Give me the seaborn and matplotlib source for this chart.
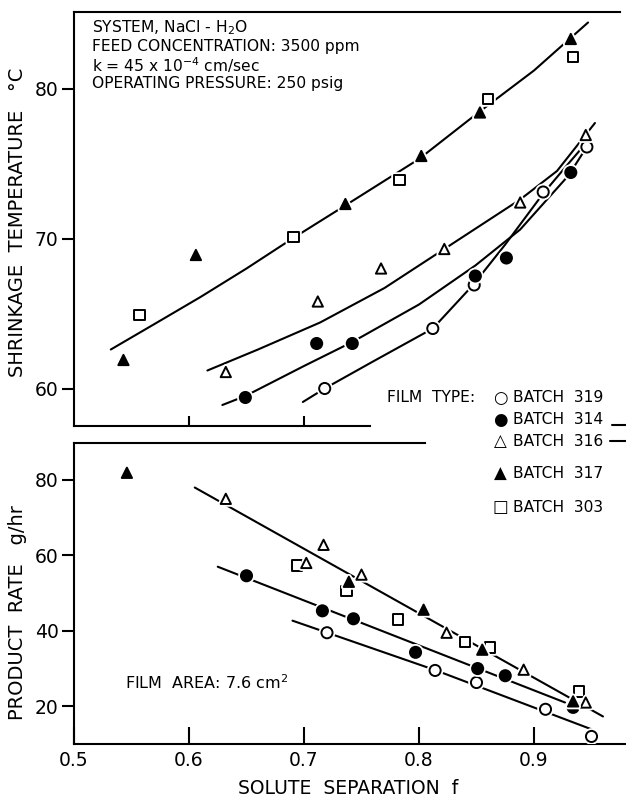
import matplotlib
matplotlib.use('Agg')
import numpy as np
import pandas as pd
import seaborn as sns
import matplotlib.pyplot as plt
import matplotlib.patheffects as pe

# ---- values ----
batches = ['319', '314', '316', '317', '303']

# shrinkage temperature (top panel) points
top_x = {
    '319': [0.718, 0.812, 0.848, 0.908, 0.946],
    '314': [0.649, 0.711, 0.742, 0.849, 0.876, 0.932],
    '316': [0.632, 0.712, 0.767, 0.822, 0.888, 0.945],
    '317': [0.543, 0.606, 0.736, 0.802, 0.853, 0.932],
    '303': [0.557, 0.691, 0.783, 0.860, 0.934],
}
top_y = {
    '319': [60.0, 64.0, 66.9, 73.1, 76.1],
    '314': [59.4, 63.0, 63.0, 67.5, 68.7, 74.4],
    '316': [61.1, 65.8, 68.0, 69.3, 72.4, 76.9],
    '317': [61.9, 68.9, 72.3, 75.5, 78.4, 83.3],
    '303': [64.9, 70.1, 73.9, 79.3, 82.1],
}

# product rate (bottom panel) points
bot_x = {
    '319': [0.720, 0.814, 0.850, 0.910, 0.950],
    '314': [0.650, 0.716, 0.743, 0.797, 0.851, 0.875, 0.934],
    '316': [0.632, 0.702, 0.717, 0.750, 0.824, 0.891, 0.945],
    '317': [0.546, 0.739, 0.804, 0.855, 0.934],
    '303': [0.694, 0.737, 0.782, 0.840, 0.862, 0.939],
}
bot_y = {
    '319': [39.5, 29.5, 26.3, 19.2, 12.0],
    '314': [54.6, 45.3, 43.2, 34.3, 30.0, 28.1, 19.7],
    '316': [75.0, 58.0, 62.8, 54.9, 39.5, 29.7, 21.0],
    '317': [81.9, 53.0, 45.6, 35.0, 21.3],
    '303': [57.3, 50.6, 43.0, 37.1, 35.6, 23.9],
}

# hand-drawn fit curves
top_curves_x = [
    [0.532, 0.57, 0.61, 0.65, 0.69, 0.74, 0.80, 0.85, 0.90, 0.947],
    [0.616, 0.66, 0.714, 0.77, 0.822, 0.888, 0.92, 0.953],
    [0.629, 0.649, 0.70, 0.742, 0.80, 0.849, 0.888, 0.93, 0.945],
    [0.699, 0.718, 0.76, 0.812, 0.847, 0.875, 0.908, 0.93, 0.948],
]
top_curves_y = [
    [62.6, 64.3, 66.1, 68.0, 70.0, 72.4, 75.3, 78.3, 81.2, 84.4],
    [61.2, 62.6, 64.4, 66.7, 69.3, 72.6, 74.5, 77.7],
    [58.9, 59.5, 61.5, 63.1, 65.6, 68.2, 70.6, 74.2, 76.0],
    [59.1, 60.0, 61.8, 64.0, 66.9, 69.6, 73.0, 75.0, 76.6],
]
bot_lines_x = [[0.605, 0.960], [0.625, 0.927], [0.690, 0.814, 0.950]]
bot_lines_y = [[78.0, 17.3], [57.0, 21.0], [42.7, 29.6, 13.9]]

styles = {  # marker, filled, size
    '319': ('o', False, 64),
    '314': ('o', True, 64),
    '316': ('^', False, 55),
    '317': ('^', True, 55),
    '303': ('s', False, 55),
}
draw_order = ['303', '319', '314', '316', '317']

sns.set_style('ticks')
plt.rcParams['font.family'] = ['DejaVu Sans']
for k in ['text.color', 'axes.labelcolor', 'xtick.color', 'ytick.color', 'axes.edgecolor']:
    plt.rcParams[k] = 'black'

W, H = 626, 796
fig = plt.figure(figsize=(W / 100, H / 100), dpi=100)
ax1 = fig.add_axes([74 / W, 370 / H, 552 / W, 414 / H])
ax2 = fig.add_axes([74 / W, 52 / H, 552 / W, 301 / H])

halo = [pe.Stroke(linewidth=4, foreground='white'), pe.Normal()]


def draw_panel(ax, xs, ys, lx, ly):
    for cx, cy in zip(lx, ly):
        sns.lineplot(x=cx, y=cy, ax=ax, color='black', lw=1.5, estimator=None, sort=False)
    for b in draw_order:
        m, filled, s = styles[b]
        df = pd.DataFrame({'x': xs[b], 'y': ys[b]})
        sns.scatterplot(data=df, x='x', y='y', ax=ax, marker=m, s=s,
                        facecolor='black' if filled else 'white',
                        edgecolor='black', linewidth=1.4, zorder=3,
                        path_effects=halo)
    ax.set_xlim(0.5, 0.98)
    ax.set_xlabel('')
    ax.set_ylabel('')
    ax.spines['right'].set_visible(False)
    for sp in ax.spines.values():
        sp.set_linewidth(1.5)


draw_panel(ax1, top_x, top_y, top_curves_x, top_curves_y)
draw_panel(ax2, bot_x, bot_y, bot_lines_x, bot_lines_y)

ax1.set_ylim(57.5, 85.1)
ax1.set_yticks([60, 70, 80])
ax1.set_xticks([0.6, 0.7])
ax1.set_xticklabels([])
ax1.spines['bottom'].set_bounds(0.5, 0.757)
ax1.spines['top'].set_bounds(0.5, 0.975)
ax1.tick_params(axis='y', direction='out', length=9, width=1.5, pad=2, labelsize=13.5)
ax1.tick_params(axis='x', direction='in', length=7, width=1.5)

ax2.set_ylim(10, 89.8)
ax2.set_yticks([20, 40, 60, 80])
ax2.set_xticks([0.5, 0.6, 0.7, 0.8, 0.9])
ax2.set_xticklabels(['0.5', '0.6', '0.7', '0.8', '0.9'])
ax2.spines['top'].set_bounds(0.5, 0.805)
ax2.tick_params(axis='y', direction='out', length=9, width=1.5, pad=2, labelsize=13.5)
ax2.tick_params(axis='x', direction='in', length=12, width=1.5, pad=5, labelsize=13.5)


def px(x, y):
    return x / W, 1 - y / H


# axis titles
fig.text(*px(18, 222), 'SHRINKAGE  TEMPERATURE   °C', rotation=90,
         ha='center', va='center', fontsize=14)
fig.text(*px(18, 613), 'PRODUCT  RATE   g/hr', rotation=90,
         ha='center', va='center', fontsize=14)
fig.text(*px(348, 788), 'SOLUTE  SEPARATION  f', ha='center', va='center', fontsize=13.5)

# conditions block
info = ['SYSTEM, NaCl - H$_2$O',
        'FEED CONCENTRATION: 3500 ppm',
        'k = 45 x 10$^{-4}$ cm/sec',
        'OPERATING PRESSURE: 250 psig']
for i, t in enumerate(info):
    fig.text(*px(92, 28 + i * 18.5), t, ha='left', va='center', fontsize=11.2)

fig.text(*px(125, 683), 'FILM  AREA: 7.6 cm$^2$', ha='left', va='center', fontsize=11.5)

# film type key
fig.text(*px(387, 398), 'FILM  TYPE:', ha='left', va='center', fontsize=11.2)
key_marks = ['○', '●', '△', '▲', '□']
key_y = [398, 420, 441, 474, 507]
for b, mk, ky in zip(batches, key_marks, key_y):
    fig.text(*px(500, ky), mk, ha='center', va='center', fontsize=12)
    fig.text(*px(513, ky), 'BATCH  ' + b, ha='left', va='center', fontsize=11.2)
fig.add_artist(plt.Line2D([612 / W, 626 / W], [1 - 425 / H] * 2, color='black', lw=1.5))
fig.add_artist(plt.Line2D([610 / W, 626 / W], [1 - 441 / H] * 2, color='black', lw=1.5))

plt.savefig('out.png', dpi=100)
